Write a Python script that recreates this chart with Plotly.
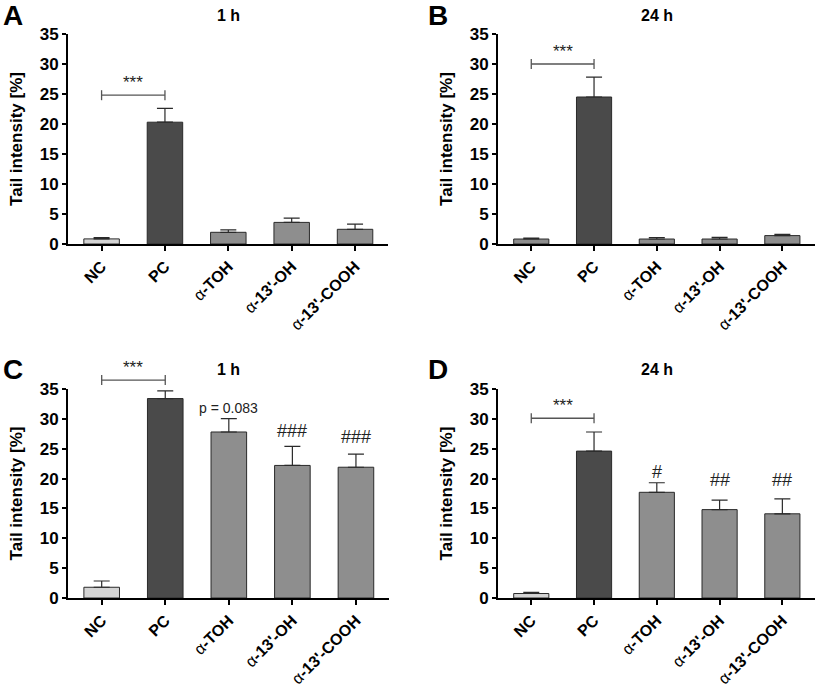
import plotly.graph_objects as go

categories = ["NC", "PC", "α-TOH", "α-13'-OH", "α-13'-COOH"]

# Panel values (mean) and upper error (drawn upward only)
a_mean = [0.85, 20.3, 1.95, 3.6, 2.45]
a_err = [0.2, 2.3, 0.4, 0.7, 0.85]
b_mean = [0.83, 24.5, 0.83, 0.83, 1.4]
b_err = [0.17, 3.3, 0.25, 0.27, 0.2]
c_mean = [1.8, 33.4, 27.8, 22.2, 21.9]
c_err = [1.05, 1.3, 2.25, 3.2, 2.2]
d_mean = [0.75, 24.6, 17.7, 14.8, 14.1]
d_err = [0.2, 3.2, 1.6, 1.6, 2.5]

y_ticks = [0, 5, 10, 15, 20, 25, 30, 35]
panel_letters = ["A", "B", "C", "D"]
panel_titles = ["1 h", "24 h", "1 h", "24 h"]
bracket_y = [24.8, 30.0, 36.5, 30.1]
# per-panel bar annotations: (category index, y value, text, size)
annots_c = [(2, 31.9, "p = 0.083", 14), (3, 28.0, "###", 18), (4, 26.9, "###", 18)]
annots_d = [(2, 21.1, "#", 18), (3, 19.7, "##", 18), (4, 19.7, "##", 18)]
panel_annots = [[], [], annots_c, annots_d]

means = [a_mean, b_mean, c_mean, d_mean]
errs = [a_err, b_err, c_err, d_err]
nc_colors = ["#d4d4d4", "#8e8e8e", "#d4d4d4", "#d4d4d4"]

W, H = 817, 688
# plot boxes in pixels (left, right, top, bottom)
boxes = [(68, 388, 34, 244), (498, 815, 34, 244), (68, 389, 389, 598), (498, 815, 389, 598)]
letter_x = [1, 426, 1, 426]
YMAX = 35

FONT = "Arial, Liberation Sans, Helvetica, sans-serif"

fig = go.Figure()
layout = dict(
    width=W, height=H,
    margin=dict(l=0, r=0, t=0, b=0, autoexpand=False),
    plot_bgcolor="white", paper_bgcolor="white",
    showlegend=False,
    font=dict(family=FONT, color="black"),
    bargap=0.44,
)
shapes = []
annotations = []

ticktext = []
for c in categories:
    if c.startswith("α"):
        ticktext.append("<span style='font-weight:normal'>α</span><b>" + c[1:] + "</b>")
    else:
        ticktext.append("<b>" + c + "</b>")

for i in range(4):
    n = "" if i == 0 else str(i + 1)
    xa, ya = "x" + n, "y" + n
    l, r, t, b = boxes[i]
    xdom = [l / W, r / W]
    ydom = [1 - b / H, 1 - t / H]

    def to_paper(v, ydom=ydom):
        return ydom[0] + v / YMAX * (ydom[1] - ydom[0])

    colors = [nc_colors[i], "#4a4a4a", "#8e8e8e", "#8e8e8e", "#8e8e8e"]
    fig.add_trace(go.Bar(
        x=list(range(len(categories))), y=means[i],
        marker=dict(color=colors, line=dict(color="#2a2a2a", width=1)),
        error_y=dict(type="data", symmetric=False, array=errs[i],
                     arrayminus=[0] * len(categories),
                     color="#2a2a2a", thickness=1.2, width=8),
        xaxis=xa, yaxis=ya,
    ))
    layout["xaxis" + n] = dict(
        domain=xdom, anchor=ya, range=[-0.53, 4.52], automargin=False,
        tickmode="array", tickvals=list(range(len(categories))), ticktext=ticktext,
        tickangle=-45, ticks="outside", ticklen=5, tickwidth=1.5, tickcolor="black",
        showline=True, linecolor="black", linewidth=2, showgrid=False, zeroline=False,
        tickfont=dict(size=16, family=FONT),
        fixedrange=True,
    )
    layout["yaxis" + n] = dict(
        domain=ydom, anchor=xa, range=[0, YMAX], automargin=False,
        tickmode="array", tickvals=y_ticks, ticktext=["<b>%d</b>" % v for v in y_ticks],
        ticks="outside", ticklen=4, tickwidth=1.5, tickcolor="black",
        showline=True, linecolor="black", linewidth=2, showgrid=False, zeroline=False,
        tickfont=dict(size=17, family=FONT),
        title=dict(text="<b>Tail intensity [%]</b>", font=dict(size=17, family=FONT),
                   standoff=13),
        fixedrange=True,
    )
    # panel title
    annotations.append(dict(
        text="<b>" + panel_titles[i] + "</b>", xref="paper", yref="paper",
        x=(xdom[0] + xdom[1]) / 2, y=1 - (t - 19) / H, xanchor="center", yanchor="middle",
        showarrow=False, font=dict(size=16, family=FONT),
    ))
    # panel letter
    annotations.append(dict(
        text="<b>" + panel_letters[i] + "</b>", xref="paper", yref="paper",
        x=letter_x[i] / W, y=1 - (t - 19) / H, xanchor="left", yanchor="middle",
        showarrow=False, font=dict(size=28, family=FONT),
    ))
    # significance bracket NC vs PC
    by = to_paper(bracket_y[i])
    tick_h = 5 / H
    shapes.append(dict(type="line", xref=xa, yref="paper", x0=0, x1=1, y0=by, y1=by,
                       line=dict(color="#555555", width=1.3)))
    for xv in (0, 1):
        shapes.append(dict(type="line", xref=xa, yref="paper", x0=xv, x1=xv,
                           y0=by - tick_h, y1=by + tick_h,
                           line=dict(color="#555555", width=1.3)))
    annotations.append(dict(
        text="***", xref=xa, yref="paper", x=0.5, y=by + 1 / H,
        xanchor="center", yanchor="bottom", showarrow=False,
        font=dict(size=17, family=FONT, color="#222222"),
    ))
    for (ci, yv, txt, sz) in panel_annots[i]:
        annotations.append(dict(
            text=txt, xref=xa, yref="paper", x=ci, y=to_paper(yv),
            xanchor="center", yanchor="middle", showarrow=False,
            font=dict(size=sz, family=FONT, color="#222222"),
        ))

layout["shapes"] = shapes
layout["annotations"] = annotations
fig.update_layout(**layout)
fig.write_html("out.html", config={"displayModeBar": False},
               post_script="document.body.style.margin='0';document.body.style.overflow='hidden';")
